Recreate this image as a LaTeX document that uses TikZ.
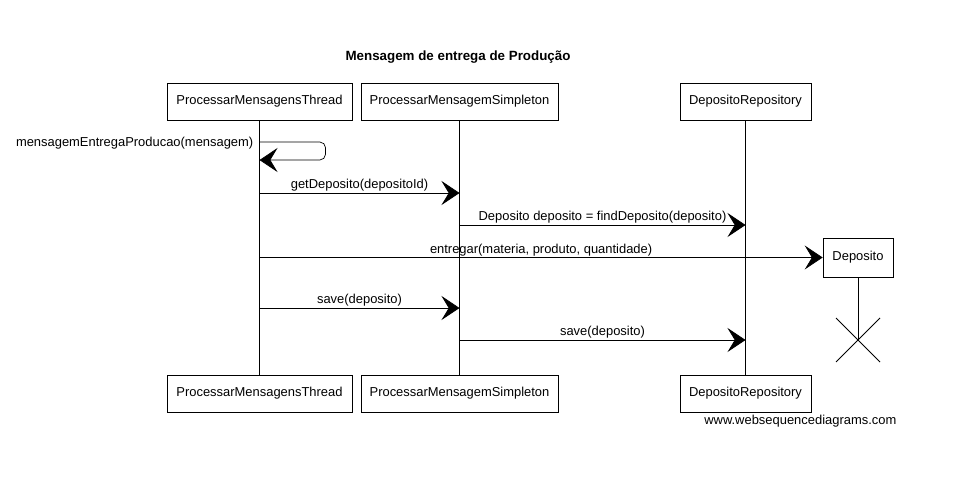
\documentclass[tikz,border=0pt]{standalone}
\usepackage{fontspec}
\setmainfont{Liberation Sans}
\usetikzlibrary{arrows.meta}

\tikzset{
  partbox/.style={draw, minimum height=0.925cm, inner sep=0pt, font=\fontsize{9.2}{11}\selectfont},
  msg/.style={-{Stealth[length=0.45cm, width=0.6cm, inset=0.18cm]}, line width=0.5pt},
  msglabel/.style={font=\fontsize{9.2}{11}\selectfont, inner sep=1pt}
}

\begin{document}
\begin{tikzpicture}[x=0.025cm, y=-0.025cm]
  \useasboundingbox (0,0) rectangle (965,487);

  %Titel
  \node[font=\fontsize{9.5}{11}\selectfont\bfseries] (titel) at (458,57) {Mensagem de entrega de Produção};

  %Teilnehmer oben
  \node[partbox, minimum width=4.625cm] (thread) at (259.5,101.5) {ProcessarMensagensThread};
  \node[partbox, minimum width=4.925cm] (simpleton) at (459.5,101.5) {ProcessarMensagemSimpleton};
  \node[partbox, minimum width=3.275cm] (repo) at (745.5,101.5) {DepositoRepository};

  %Teilnehmer unten
  \node[partbox, minimum width=4.625cm] (threadU) at (259.5,393.5) {ProcessarMensagensThread};
  \node[partbox, minimum width=4.925cm] (simpletonU) at (459.5,393.5) {ProcessarMensagemSimpleton};
  \node[partbox, minimum width=3.275cm] (repoU) at (745.5,393.5) {DepositoRepository};

  \node[partbox, minimum width=1.75cm, minimum height=0.975cm] (deposito) at (858,257.5) {Deposito};

  %Lebenslinien
  \draw (thread) -- (threadU);
  \draw (simpleton) -- (simpletonU);
  \draw (repo) -- (repoU);
  \coordinate (ende) at (858,340);
  \draw (deposito) -- (ende);
  \draw[line width=0.6pt] (ende) ++(-22,-22) -- ++(44,44) ++(0,-44) -- ++(-44,44);

  %Nachrichten
  \coordinate (s1) at (259.5,142);
  \coordinate (s2) at (259.5,160);
  \draw[msg, rounded corners=4pt] (s1) -- ++(66,0) -- ++(0,18) -- (s2);
  \node[msglabel, anchor=east] (l1) at (255,143) {mensagemEntregaProducao(mensagem)};

  \foreach \name/\from/\to/\y/\text in {
      get/thread/simpleton/193/{getDeposito(depositoId)},
      find/simpleton/repo/225/{Deposito deposito = findDeposito(deposito)},
      save1/thread/simpleton/308/{save(deposito)},
      save2/simpleton/repo/340/{save(deposito)}}{
    \coordinate (\name a) at (\from |- 0,\y);
    \coordinate (\name b) at (\to |- 0,\y);
    \draw[msg] (\name a) -- node[msglabel, above] (\name l) {\text} (\name b);
  }

  \coordinate (entra) at (thread |- deposito);
  \draw[msg] (entra) -- node[msglabel, above] (entrl) {entregar(materia, produto, quantidade)} (deposito.west);

  \node[msglabel, anchor=east] (www) at (898,421) {www.websequencediagrams.com};
\end{tikzpicture}
\end{document}
